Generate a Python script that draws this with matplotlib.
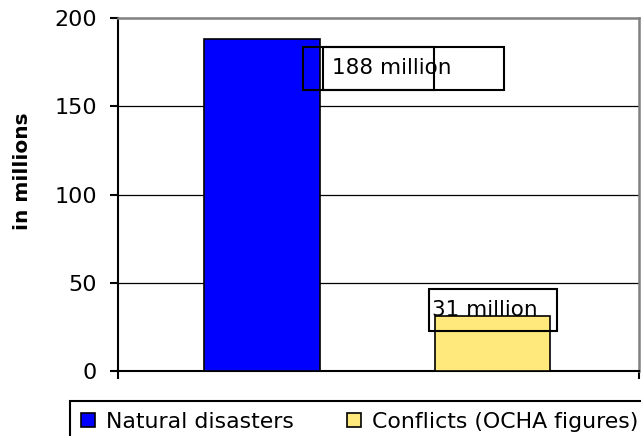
import matplotlib.pyplot as plt
from matplotlib.patches import Rectangle

# データ
series = ['Natural disasters', 'Conflicts (OCHA figures)']
values = [188, 31]
labels = ['188 million', '31 million']
colors = ['#0000FF', '#FFE87C']
yticks = [0, 50, 100, 150, 200]

plt.rcParams['font.family'] = ['DejaVu Sans']

fig = plt.figure(figsize=(6.41, 4.36), dpi=100)
ax = fig.add_axes([118 / 641, 1 - 371 / 436, 521 / 641, 353 / 436])

x = list(range(len(values)))
bars = ax.bar(x, values, width=0.5, color=colors, edgecolor='black',
              linewidth=1.2, zorder=3)

ax.set_xlim(-0.625, 1.636)
ax.set_ylim(0, 200)
ax.set_yticks(yticks)
ax.set_yticklabels([str(t) for t in yticks], fontsize=16)
ax.tick_params(axis='y', direction='out', length=6, width=1.5, pad=9)
ax.set_xticks([-0.625, 1.636])
ax.set_xticklabels(['', ''])
ax.tick_params(axis='x', direction='out', length=6, width=1.5)

# グリッド
for t in yticks[1:-1]:
    ax.axhline(t, color='black', linewidth=0.9, zorder=1)

ax.spines['left'].set_linewidth(1.5)
ax.spines['bottom'].set_linewidth(1.5)
ax.spines['top'].set_color('#808080')
ax.spines['right'].set_color('#808080')
ax.spines['top'].set_linewidth(1.8)
ax.spines['right'].set_linewidth(1.8)

ax.set_ylabel('in millions', fontsize=14.5, fontweight='bold')
ax.yaxis.set_label_coords(-0.165, 0.567)

# データラベル（枠付き）
# 188 million: 重なった二つの枠
v0 = values[0]
ax.text(0.304, v0 - 16.3, labels[0], fontsize=15.5, va='center', ha='left', zorder=2)
ax.add_patch(Rectangle((0.178, v0 - 28.8), 0.568, 24.4, fill=False,
                       edgecolor='black', linewidth=1.5, zorder=4))
ax.add_patch(Rectangle((0.265, v0 - 28.8), 0.785, 24.4, fill=False,
                       edgecolor='black', linewidth=1.5, zorder=4))
# 31 million: 棒の後ろに文字
v1 = values[1]
ax.text(0.738, v1 + 3.6, labels[1], fontsize=15.5, va='center', ha='left', zorder=2)
ax.add_patch(Rectangle((0.725, v1 - 8.3), 0.555, 23.8, fill=False,
                       edgecolor='black', linewidth=1.5, zorder=4))

# 凡例
handles = [Rectangle((0, 0), 1, 1, facecolor=c, edgecolor='black', linewidth=1.2)
           for c in colors]
leg = fig.legend(handles, series, loc='upper left', ncol=2,
                 bbox_to_anchor=(70 / 641, 1 - 401 / 436), borderaxespad=0,
                 fontsize=15.8, handlelength=0.64, handleheight=0.62,
                 handletextpad=0.5, columnspacing=2.4, borderpad=0.5,
                 fancybox=False, frameon=True)
leg.get_frame().set_edgecolor('black')
leg.get_frame().set_linewidth(1.5)
leg.get_frame().set_alpha(1)

fig.savefig('out.png', dpi=100)
